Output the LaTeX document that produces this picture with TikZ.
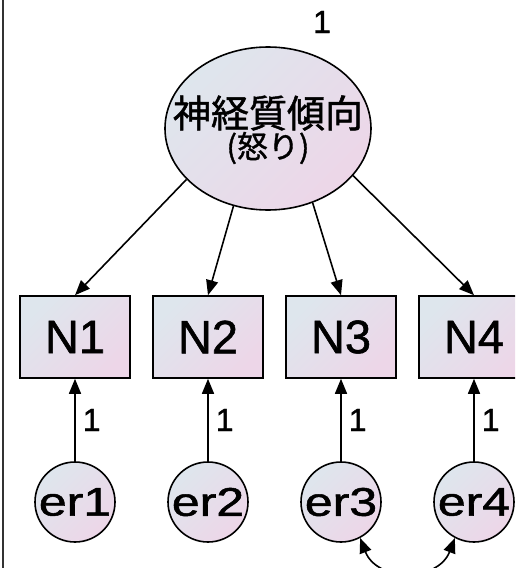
\documentclass[tikz,border=0pt]{standalone}
\usepackage{fontspec}
\setmainfont{Liberation Sans}[FakeBold=1.2]
\newfontfamily\jp{Noto Sans CJK JP}[FakeBold=1.2]
\usetikzlibrary{arrows.meta,shapes.geometric}
\definecolor{gA}{RGB}{222,230,237}
\definecolor{gB}{RGB}{237,214,232}
\tikzset{
 grad/.style={top color=gA,bottom color=gB,shading angle=45},
 bf/.style={font=\fontsize{#1}{#1}\selectfont\addfontfeature{FakeBold=1.2}},
 obs/.style={draw=black,line width=1.6pt,grad,minimum width=110pt,minimum height=82pt,inner sep=0pt},
 err/.style={circle,draw=black,line width=1.6pt,grad,minimum size=80pt,inner sep=0pt},
 lat/.style={ellipse,draw=black,line width=1.6pt,grad,minimum width=206pt,minimum height=163pt,inner sep=0pt},
 arr/.style={line width=1.6pt,-{Triangle[length=15pt,width=12pt]}},
 dbl/.style={line width=1.6pt,{Triangle[length=15pt,width=12pt]}-{Triangle[length=15pt,width=12pt]}},
 lbl/.style={inner sep=0pt}
}
\begin{document}
\begin{tikzpicture}[x=1pt,y=-1pt]
\useasboundingbox (0,0) rectangle (515,568);
\clip (0,0) rectangle (515,568);
\draw[line width=1.5pt,black!80] (3,0) -- (3,568);
\node[lat] (L) at (268,128.5) {};
\node[lbl] (t1) at (268,113) {\jp\fontsize{38}{38}\selectfont 神経質傾向};
\node[lbl] (t2) at (268,148) {\jp\fontsize{31}{31}\selectfont (怒り)};
\node[lbl] (v) at (322,22) {\fontsize{32}{32}\selectfont 1};
\foreach \i/\x in {1/75,2/208,3/341,4/474}{
  \node[obs] (N\i) at (\x,337) {\fontsize{47}{47}\selectfont N\i};
  \node[err] (e\i) at (\x,502) {\scalebox{1.25}[1]{\fontsize{40}{40}\selectfont er\i}};
  \draw[arr] (e\i.north) -- (N\i.south) node[lbl,midway,right=7pt] (w\i) {\fontsize{32}{32}\selectfont 1};
}
\draw[arr] (L.212) -- (N1.north);
\draw[arr] (L.246) -- (N2.north);
\draw[arr] (L.301) -- (N3.north);
\draw[arr] (L.331) -- (N4.north);
\draw[dbl] (e3.-62) .. controls (377,582) and (438,582) .. (e4.-118);
\end{tikzpicture}
\end{document}
